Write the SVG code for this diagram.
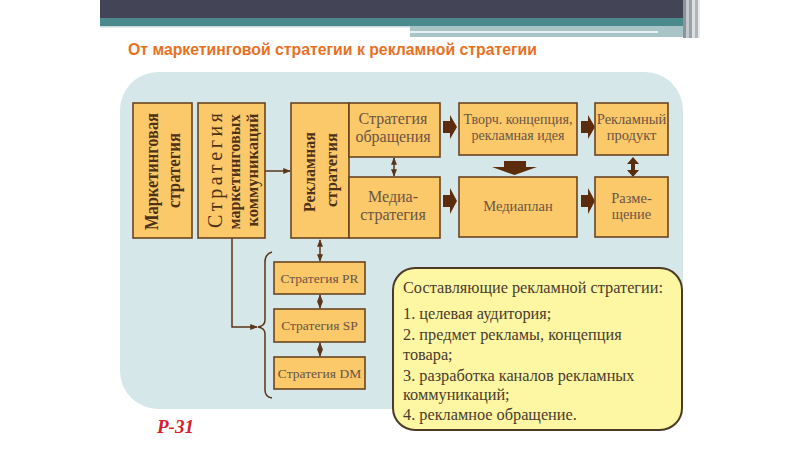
<svg xmlns="http://www.w3.org/2000/svg" width="800" height="450" viewBox="0 0 800 450">
<defs>
<style>
.box{fill:#fbc86a;stroke:#6b4420;stroke-width:1.6}
.lbl{font-family:"Liberation Serif","Times New Roman",serif;fill:#6a5644;text-anchor:middle}
.vl{font-family:"Liberation Serif","Times New Roman",serif;fill:#4e3218;text-anchor:middle;font-weight:bold}
.vn{font-family:"Liberation Serif","Times New Roman",serif;fill:#4e3218;text-anchor:middle;font-weight:normal}
.ln{fill:none;stroke:#5a3518;stroke-width:1.5}
.blk{fill:#5c2d0c}
.lst{font-family:"Liberation Serif","Times New Roman",serif;fill:#4a3c2e;font-size:16.3px}
</style>
<marker id="ah" viewBox="0 0 10 10" refX="9" refY="5" markerWidth="5" markerHeight="5" orient="auto-start-reverse">
<path d="M0,1 L10,5 L0,9 z" fill="#5a3518"/>
</marker>
</defs>
<rect x="0" y="0" width="800" height="450" fill="#ffffff"/>
<g id="header">
<rect x="100" y="0" width="585" height="18" fill="#434556"/>
<rect x="100" y="18" width="585" height="8" fill="#4b8a8c"/>
<rect x="100" y="26" width="310" height="1.5" fill="#c9dcdd"/>
<rect x="410" y="26" width="275" height="11" fill="#a8c4c7"/>
<line x1="410" y1="32" x2="658" y2="32" stroke="#ffffff" stroke-width="1.5"/>
<rect x="683" y="0" width="3" height="38" fill="#8c939c"/>
<rect x="686" y="0" width="3" height="38" fill="#c4c8cc"/>
<rect x="689" y="0" width="3" height="38" fill="#9aa1a9"/>
<rect x="692" y="0" width="3" height="38" fill="#dde0e3"/>
<rect x="695" y="0" width="3" height="38" fill="#b0b5bb"/>
<rect x="698" y="0" width="2" height="38" fill="#e8eaec"/>
</g>
<text x="128" y="55" font-family="'Liberation Sans',Arial,sans-serif" font-weight="bold" font-size="17" fill="#e8711f" textLength="409" lengthAdjust="spacingAndGlyphs">От маркетинговой стратегии к рекламной стратегии</text>
<rect id="panel" x="120" y="72" width="563" height="337" rx="38" ry="38" fill="#d5e7e9"/>

<g id="connectors">
<line class="ln" x1="265" y1="171" x2="290" y2="171" marker-end="url(#ah)"/>
<polyline class="ln" points="232,238 232,327 257,327" marker-end="url(#ah)"/>
<path class="ln" d="M272,252 Q265,254 265,262 L265,320 Q265,326 258,327 Q265,328 265,334 L265,390 Q265,397 272,398" stroke-width="2"/>
<line class="ln" x1="320" y1="240" x2="320" y2="261" marker-start="url(#ah)" marker-end="url(#ah)"/>
<line class="ln" x1="320" y1="295" x2="320" y2="308" marker-start="url(#ah)" marker-end="url(#ah)"/>
<line class="ln" x1="320" y1="343" x2="320" y2="356" marker-start="url(#ah)" marker-end="url(#ah)"/>
<line class="ln" x1="394" y1="158" x2="394" y2="176" marker-start="url(#ah)" marker-end="url(#ah)"/>
<polygon class="blk" points="443,121 450,121 450,115 457,127 450,139 450,133 443,133"/>
<polygon class="blk" points="581,121 588,121 588,115 595,127 588,139 588,133 581,133"/>
<polygon class="blk" points="443,195 450,195 450,188 457,201 450,214 450,207 443,207"/>
<polygon class="blk" points="581,195 588,195 588,188 595,201 588,214 588,207 581,207"/>
<polygon class="blk" points="504,161 526,161 526,167 537,167 514.5,175 492,167 504,167"/>
<polygon class="blk" points="633,157 639,164 635,164 635,170 639,170 633,177 627,170 631,170 631,164 627,164"/>
</g>

<g id="marketing-strategy">
<rect class="box" x="133" y="103" width="59" height="135"/>
<text class="vl" font-size="18" transform="translate(158,171.5) rotate(-90)" textLength="117" lengthAdjust="spacingAndGlyphs">Маркетинговая</text>
<text class="vl" font-size="18" transform="translate(180,170.5) rotate(-90)" textLength="75" lengthAdjust="spacingAndGlyphs">стратегия</text>
</g>
<g id="mc-strategy">
<rect class="box" x="198" y="103" width="67" height="135"/>
<text class="vn" font-size="20" transform="translate(222,170.5) rotate(-90)" textLength="115" lengthAdjust="spacing">Стратегия</text>
<text class="vl" font-size="17" transform="translate(240,172) rotate(-90)" textLength="115" lengthAdjust="spacingAndGlyphs">маркетинговых</text>
<text class="vl" font-size="17" transform="translate(258,170) rotate(-90)" textLength="113" lengthAdjust="spacingAndGlyphs">коммуникаций</text>
</g>
<g id="ad-strategy">
<rect class="box" x="291" y="103" width="58" height="135"/>
<text class="vl" font-size="17" transform="translate(315,172) rotate(-90)" textLength="80" lengthAdjust="spacingAndGlyphs">Рекламная</text>
<text class="vl" font-size="17" transform="translate(337,170) rotate(-90)" textLength="74" lengthAdjust="spacingAndGlyphs">стратегия</text>
</g>
<g id="message-strategy">
<rect class="box" x="349" y="103" width="91" height="54"/>
<text class="lbl" font-size="16" x="393" y="124">Стратегия</text>
<text class="lbl" font-size="16" x="393" y="142">обращения</text>
</g>
<g id="media-strategy">
<rect class="box" x="349" y="177" width="91" height="61"/>
<text class="lbl" font-size="16" x="393" y="202">Медиа-</text>
<text class="lbl" font-size="16" x="393" y="220">стратегия</text>
</g>
<g id="creative">
<rect class="box" x="459" y="103" width="118" height="52"/>
<text class="lbl" font-size="14" x="518" y="124">Творч. концепция,</text>
<text class="lbl" font-size="14" x="518" y="140">рекламная идея</text>
</g>
<g id="ad-product">
<rect class="box" x="595" y="103" width="73" height="52"/>
<text class="lbl" font-size="14.5" x="631.5" y="124">Рекламный</text>
<text class="lbl" font-size="14.5" x="631.5" y="140">продукт</text>
</g>
<g id="mediaplan">
<rect class="box" x="459" y="177" width="118" height="60"/>
<text class="lbl" font-size="14.5" x="518" y="211">Медиаплан</text>
</g>
<g id="placement">
<rect class="box" x="595" y="177" width="73" height="60"/>
<text class="lbl" font-size="14.5" x="631.5" y="203">Разме-</text>
<text class="lbl" font-size="14.5" x="631.5" y="219">щение</text>
</g>
<g id="pr">
<rect class="box" x="274" y="262" width="91" height="32"/>
<text class="lbl" font-size="13.5" x="319.5" y="283">Стратегия PR</text>
</g>
<g id="sp">
<rect class="box" x="274" y="309" width="91" height="33"/>
<text class="lbl" font-size="13.5" x="319.5" y="330">Стратегия SP</text>
</g>
<g id="dm">
<rect class="box" x="274" y="357" width="91" height="32"/>
<text class="lbl" font-size="13.5" x="319.5" y="378">Стратегия DM</text>
</g>
<g id="components">
<rect x="393" y="268" width="289" height="162" rx="22" ry="22" fill="#fdf6a2" stroke="#4c3a26" stroke-width="2"/>
<text class="lst" x="403" y="293">Составляющие рекламной стратегии:</text>
<text class="lst" x="403" y="319">1. целевая аудитория;</text>
<text class="lst" x="403" y="340">2. предмет рекламы, концепция</text>
<text class="lst" x="403" y="360">товара;</text>
<text class="lst" x="403" y="381">3. разработка каналов рекламных</text>
<text class="lst" x="403" y="400">коммуникаций;</text>
<text class="lst" x="403" y="420">4. рекламное обращение.</text>
</g>
<text x="157" y="433" font-family="'Liberation Serif','Times New Roman',serif" font-weight="bold" font-style="italic" font-size="19" fill="#d4202c">P-31</text>
</svg>
